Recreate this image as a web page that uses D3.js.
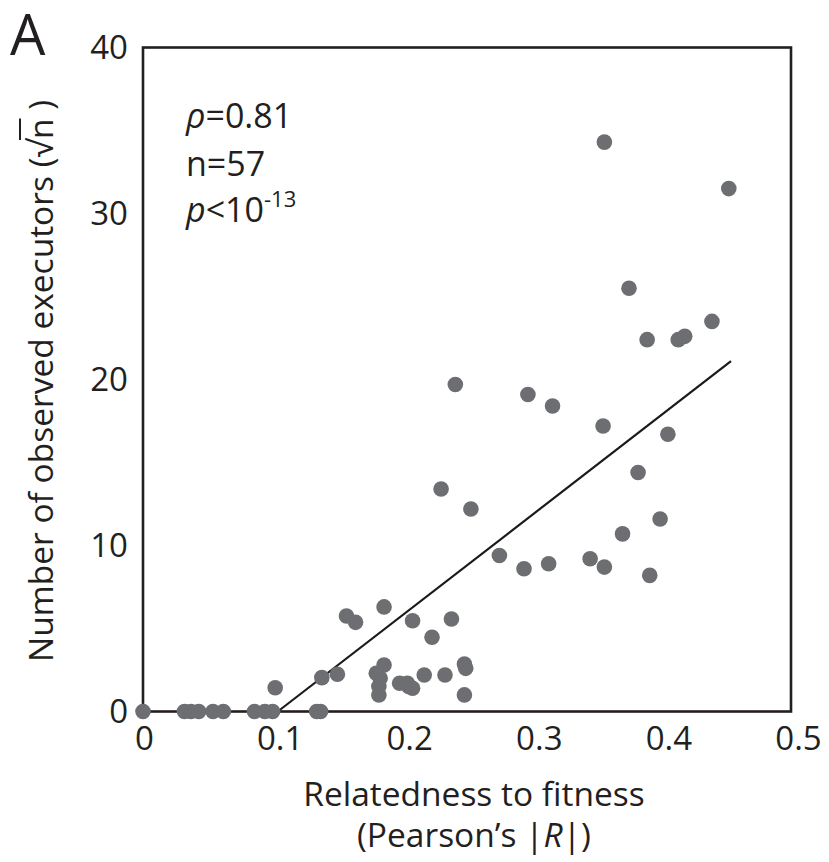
<!DOCTYPE html>
<html><head><meta charset="utf-8">
<script src="https://cdn.jsdelivr.net/npm/d3@7"></script>
<style>body{margin:0;background:#fff}svg{display:block}text{font-family:"Open Sans",sans-serif;fill:#231f20}</style>
</head><body><svg id="c" width="829" height="862"></svg>
<script>
// Data: relatedness |R| (x) and sqrt(executors) (y)
const relatedness = [
  0, 0.032, 0.037, 0.043, 0.054, 0.062, 0.086, 0.094, 0.100, 0.134, 0.137,
  0.102, 0.138, 0.150, 0.186, 0.183, 0.180, 0.182, 0.182, 0.198, 0.204, 0.205, 0.208, 0.217, 0.233, 0.248, 0.249, 0.248,
  0.157, 0.164, 0.186, 0.208, 0.238, 0.223,
  0.356, 0.452, 0.375, 0.389, 0.413, 0.418, 0.439, 0.241, 0.297, 0.316, 0.355, 0.405, 0.382,
  0.230, 0.253, 0.399, 0.370, 0.275, 0.294, 0.313, 0.345, 0.356, 0.391
];
const executors = [
  0, 0, 0, 0, 0, 0, 0, 0, 0, 0, 0,
  1.43, 2.04, 2.24, 2.8, 2.0, 2.3, 1.5, 1.0, 1.7, 1.7, 1.5, 1.4, 2.2, 2.2, 2.86, 2.6, 1.0,
  5.75, 5.37, 6.3, 5.47, 5.57, 4.47,
  34.3, 31.5, 25.5, 22.4, 22.4, 22.6, 23.5, 19.7, 19.1, 18.4, 17.2, 16.7, 14.4,
  13.4, 12.2, 11.6, 10.7, 9.4, 8.6, 8.9, 9.2, 8.7, 8.2
];
const trendX = [0.104, 0.4537];
const trendY = [0, 21.1];
const xTicks = [0, 0.1, 0.2, 0.3, 0.4, 0.5];
const xTickLabels = ["0", "0.1", "0.2", "0.3", "0.4", "0.5"];
const yTicks = [0, 10, 20, 30, 40];
const yTickLabels = ["0", "10", "20", "30", "40"];

const svg = d3.select("#c");
const x = d3.scaleLinear().domain([0, 0.5]).range([143, 791]);
const y = d3.scaleLinear().domain([0, 40]).range([711.5, 47.5]);

// frame
svg.append("rect").attr("x", x(0)).attr("y", y(40))
  .attr("width", x(0.5) - x(0)).attr("height", y(0) - y(40))
  .attr("fill", "none").attr("stroke", "#231f20").attr("stroke-width", 2.6);

// axes (labels only)
const xAxis = d3.axisBottom(x).tickValues(xTicks).tickFormat((d, i) => xTickLabels[i]).tickSize(0).tickPadding(0);
const gx = svg.append("g").attr("transform", `translate(0,${y(0)})`).call(xAxis);
gx.select(".domain").remove();
gx.selectAll("text").attr("font-size", 33).attr("font-family", "Open Sans").attr("fill", "#231f20")
  .attr("dy", null).attr("y", 38.5).attr("dx", d => d === 0 ? 1 : 7);

const yAxis = d3.axisLeft(y).tickValues(yTicks).tickFormat((d, i) => yTickLabels[i]).tickSize(0).tickPadding(15);
const gy = svg.append("g").attr("transform", `translate(${x(0)},0)`).call(yAxis);
gy.select(".domain").remove();
gy.selectAll("text").attr("font-size", 33).attr("font-family", "Open Sans").attr("fill", "#231f20")
  .attr("dy", "0.33em");

// trend line
const pts = trendX.map((v, i) => [v, trendY[i]]);
svg.append("path").attr("d", d3.line().x(d => x(d[0])).y(d => y(d[1]))(pts))
  .attr("stroke", "#1a1a1a").attr("stroke-width", 2.2).attr("fill", "none");

// points
svg.append("g").selectAll("circle").data(relatedness.map((v, i) => [v, executors[i]])).join("circle")
  .attr("cx", d => x(d[0])).attr("cy", d => y(d[1])).attr("r", 7.8).attr("fill", "#6d6e71");

// panel letter
svg.append("text").attr("x", 10).attr("y", 55).attr("font-size", 56).text("A");

// stats
const st = svg.append("g").attr("font-size", 34);
st.append("text").attr("x", 186).attr("y", 128).html('<tspan font-style="italic">ρ</tspan>=0.81');
st.append("text").attr("x", 186).attr("y", 176).text("n=57");
const pt = st.append("text").attr("x", 186).attr("y", 222);
pt.append("tspan").attr("font-style", "italic").text("p");
pt.append("tspan").text("<10");
pt.append("tspan").attr("font-size", 22).attr("dy", -15).text("-13");

// x title
svg.append("text").attr("x", 474).attr("y", 806).attr("text-anchor", "middle").attr("font-size", 33.5)
  .text("Relatedness to fitness");
const xt2 = svg.append("text").attr("x", 474).attr("y", 847).attr("text-anchor", "middle").attr("font-size", 33.5);
xt2.append("tspan").text("(Pearson’s |");
xt2.append("tspan").attr("font-style", "italic").text("R");
xt2.append("tspan").text("|)");

// y title
const ytg = svg.append("g").attr("transform", "translate(53,381) rotate(-90)");
const yt = ytg.append("text").attr("text-anchor", "middle").attr("font-size", 33.5);
yt.append("tspan").text("Number of observed executors (√");
yt.append("tspan").text("n");
yt.append("tspan").text(" )");
// overline over n, positioned from the rendered glyph extents
const full = "Number of observed executors (√n )";
const iRoot = full.indexOf("√"), iN = iRoot + 1;
const node = yt.node();
const eR = node.getExtentOfChar(iRoot), eN = node.getExtentOfChar(iN);
ytg.append("line")
  .attr("x1", eR.x + eR.width - 1).attr("x2", eN.x + eN.width)
  .attr("y1", eR.y + 3).attr("y2", eR.y + 3)
  .attr("stroke", "#231f20").attr("stroke-width", 2);
</script></body></html>
